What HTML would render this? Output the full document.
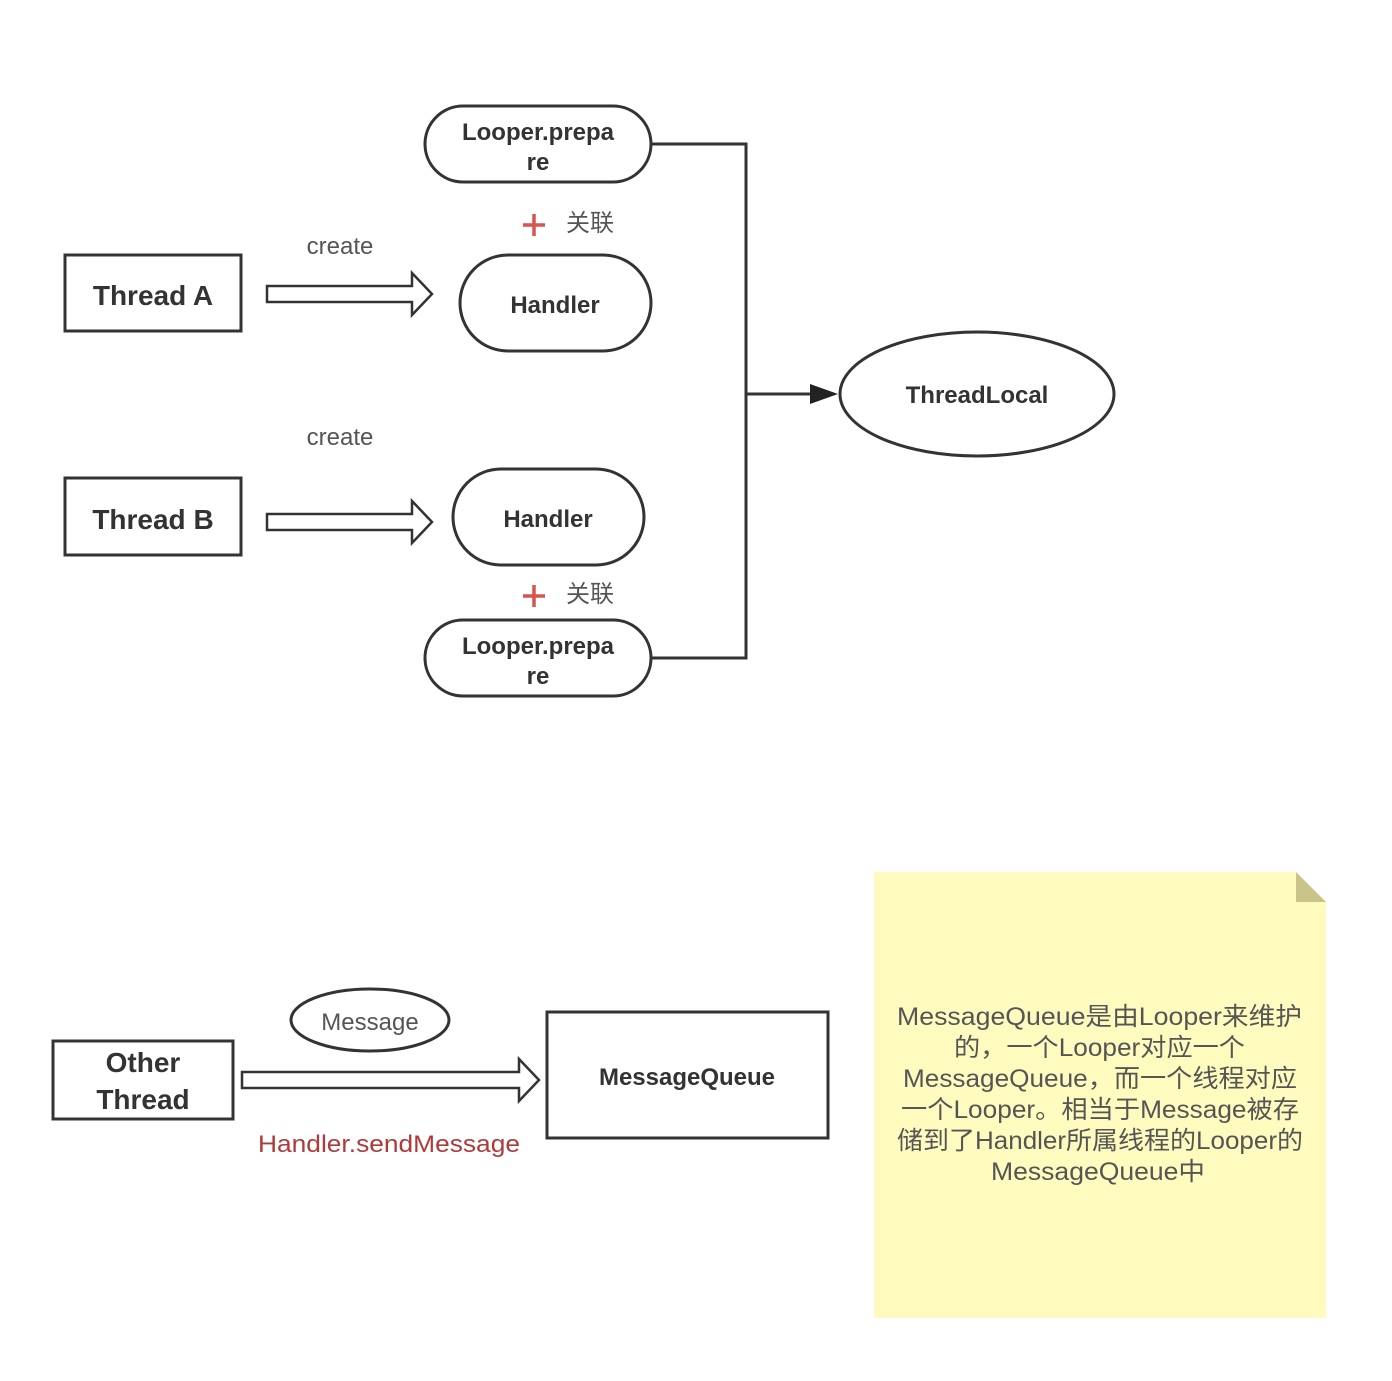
<!DOCTYPE html>
<html><head><meta charset="utf-8"><style>
body{margin:0;background:#fff;}
svg text{font-family:"Liberation Sans","Noto Sans CJK SC",sans-serif;}
</style></head><body>
<svg width="1392" height="1376" viewBox="0 0 1392 1376" xmlns="http://www.w3.org/2000/svg">
<g fill="none" stroke="#333" stroke-width="3">
<rect x="65" y="255" width="176" height="76"/>
<rect x="65" y="478" width="176" height="77"/>
<rect x="425" y="106" width="226" height="76" rx="38"/>
<rect x="460" y="255" width="191" height="96" rx="48"/>
<rect x="453" y="469" width="191" height="96" rx="48"/>
<rect x="425" y="620" width="226" height="76" rx="38"/>
<ellipse cx="977" cy="394" rx="137" ry="62"/>
<path d="M651 144 H746 V658 H651"/>
<path d="M746 394 H812"/>
<path d="M267 286 H412 V273 L432 294 L412 315 V302 H267 Z" stroke-width="2.5"/>
<path d="M267 514 H412 V501 L432 522 L412 543 V530 H267 Z" stroke-width="2.5"/>
<rect x="53" y="1041" width="180" height="78"/>
<rect x="547" y="1012" width="281" height="126"/>
<ellipse cx="370" cy="1020" rx="79" ry="31"/>
<path d="M242 1072 H519 V1059 L539 1080 L519 1101 V1088 H242 Z" stroke-width="2.5"/>
</g>
<path d="M810 384 L838 394 L810 404 Z" fill="#222"/>
<path d="M534 214 V236 M523 225 H545" stroke="#d9534f" stroke-width="3.5"/>
<path d="M534 585 V607 M523 596 H545" stroke="#d9534f" stroke-width="3.5"/>
<path d="M874 872 H1296 L1326 902 V1318 H874 Z" fill="#fffbbf"/>
<path d="M1296 872 V902 H1326 Z" fill="#c9c58a"/>
<g fill="#333" font-weight="bold" text-anchor="middle">
<text x="153" y="305" font-size="28">Thread A</text>
<text x="153" y="529" font-size="28">Thread B</text>
<text x="538" y="140" font-size="24">Looper.prepa</text>
<text x="538" y="170" font-size="24">re</text>
<text x="555" y="313" font-size="24">Handler</text>
<text x="548" y="527" font-size="24">Handler</text>
<text x="538" y="654" font-size="24">Looper.prepa</text>
<text x="538" y="684" font-size="24">re</text>
<text x="977" y="403" font-size="24">ThreadLocal</text>
<text x="143" y="1072" font-size="28">Other</text>
<text x="143" y="1109" font-size="28">Thread</text>
<text x="687" y="1085" font-size="24">MessageQueue</text>
</g>
<g fill="#555" font-size="24" text-anchor="middle">
<text x="340" y="254">create</text>
<text x="340" y="445">create</text>
<text x="590" y="231">关联</text>
<text x="590" y="602">关联</text>
<text x="370" y="1030">Message</text>
</g>
<text x="258" y="1152" fill="#b03a3a" font-size="24" textLength="262" lengthAdjust="spacingAndGlyphs">Handler.sendMessage</text>
<g fill="#555" font-size="25" lengthAdjust="spacingAndGlyphs">
<text x="897" y="1025" textLength="405" lengthAdjust="spacingAndGlyphs">MessageQueue是由Looper来维护</text>
<text x="954" y="1056" textLength="291" lengthAdjust="spacingAndGlyphs">的，一个Looper对应一个</text>
<text x="903" y="1087" textLength="394" lengthAdjust="spacingAndGlyphs">MessageQueue，而一个线程对应</text>
<text x="901" y="1118" textLength="398" lengthAdjust="spacingAndGlyphs">一个Looper。相当于Message被存</text>
<text x="897" y="1149" textLength="406" lengthAdjust="spacingAndGlyphs">储到了Handler所属线程的Looper的</text>
<text x="991" y="1180" textLength="214" lengthAdjust="spacingAndGlyphs">MessageQueue中</text>
</g>
</svg>
</body></html>
